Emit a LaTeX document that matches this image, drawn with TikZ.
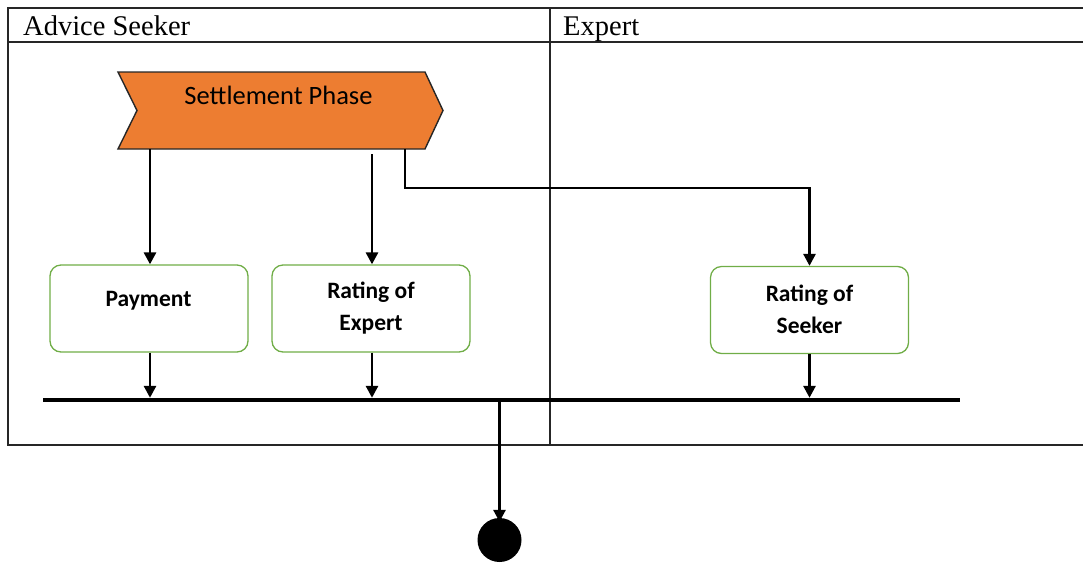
\documentclass[tikz,border=0pt]{standalone}
\usepackage{fontspec}
\setmainfont{Liberation Serif}
\newfontfamily\calib{Carlito}
\usetikzlibrary{arrows.meta}
\definecolor{phaseorange}{HTML}{ED7D31}
\definecolor{boxgreen}{HTML}{70AD47}
\begin{document}
\begin{tikzpicture}[x=1pt,y=-1pt,
  grid/.style={line width=1.4pt,black!85},
  lane/.style={font=\fontsize{28.5}{31}\selectfont,anchor=base west,inner sep=0pt},
  actbox/.style={draw=boxgreen,line width=1.3pt,rounded corners=11pt,
    minimum width=198pt,minimum height=87pt,inner sep=0pt},
  acttext/.style={font=\calib\bfseries\fontsize{23.5}{31.5}\selectfont,align=center,inner sep=0pt},
  arr/.style={line width=2.8pt,-{Triangle[length=12pt,width=12pt]}},
  conn/.style={line width=2.8pt}]
\useasboundingbox (0,0) rectangle (1083,563);

% swimlane table
\draw[grid] (1083,8) -- (8,8) -- (8,445) -- (1083,445);
\draw[grid] (8,42) -- (1083,42);
\draw[grid] (550,8) -- (550,445);
\node[lane] (laneA) at (23,35) {Advice Seeker};
\node[lane] (laneB) at (563,35) {Expert};

% settlement phase chevron
\coordinate (spA) at (118,72);
\coordinate (spB) at (425,72);
\coordinate (spC) at (443,110.5);
\coordinate (spD) at (425,149);
\coordinate (spE) at (118,149);
\coordinate (spF) at (137,110.5);
\filldraw[fill=phaseorange,draw=black!85,line width=1.4pt,line join=miter]
  (spA) -- (spB) -- (spC) -- (spD) -- (spE) -- (spF) -- cycle;
\node[font=\calib\fontsize{26.5}{30}\selectfont,anchor=base,inner sep=0pt] (spT)
  at (278.5,104) {Settlement Phase};
\coordinate (sp1) at (150,149);
\coordinate (sp2) at (372,154);
\coordinate (sp3) at (405,149);

% activities
\node[actbox] (pay) at (149,308.5) {};
\node[actbox] (rex) at (371,308.5) {};
\node[actbox] (rsk) at (809.5,310) {};
\node[acttext,anchor=base] (payT) at (148.5,306) {Payment};
\node[acttext] (rexT) at ([yshift=0.5pt]rex.center) {Rating of\\Expert};
\node[acttext] (rskT) at ([yshift=0.5pt]rsk.center) {Rating of\\Seeker};

% join bar and final node
\node[fill=black,minimum width=917pt,minimum height=4pt,inner sep=0pt] (bar) at (501.5,400) {};
\node[circle,fill=black,minimum size=44pt,inner sep=0pt] (fin) at (499.5,540) {};

% connectors
\draw[arr] (sp1) -- (sp1 |- pay.north);
\draw[arr] (sp2) -- (sp2 |- rex.north);
\draw[arr] (sp3) -- (405,188) -- (rsk.north |- 0,188) -- (rsk.north);
\draw[arr] (pay.south -| sp1) -- (sp1 |- bar.north);
\draw[arr] (rex.south -| sp2) -- (sp2 |- bar.north);
\draw[arr] (rsk.south) -- (rsk.south |- bar.north);
\draw[arr] (fin.north |- bar.south) -- ([yshift=-4pt]fin.north);
\end{tikzpicture}
\end{document}
